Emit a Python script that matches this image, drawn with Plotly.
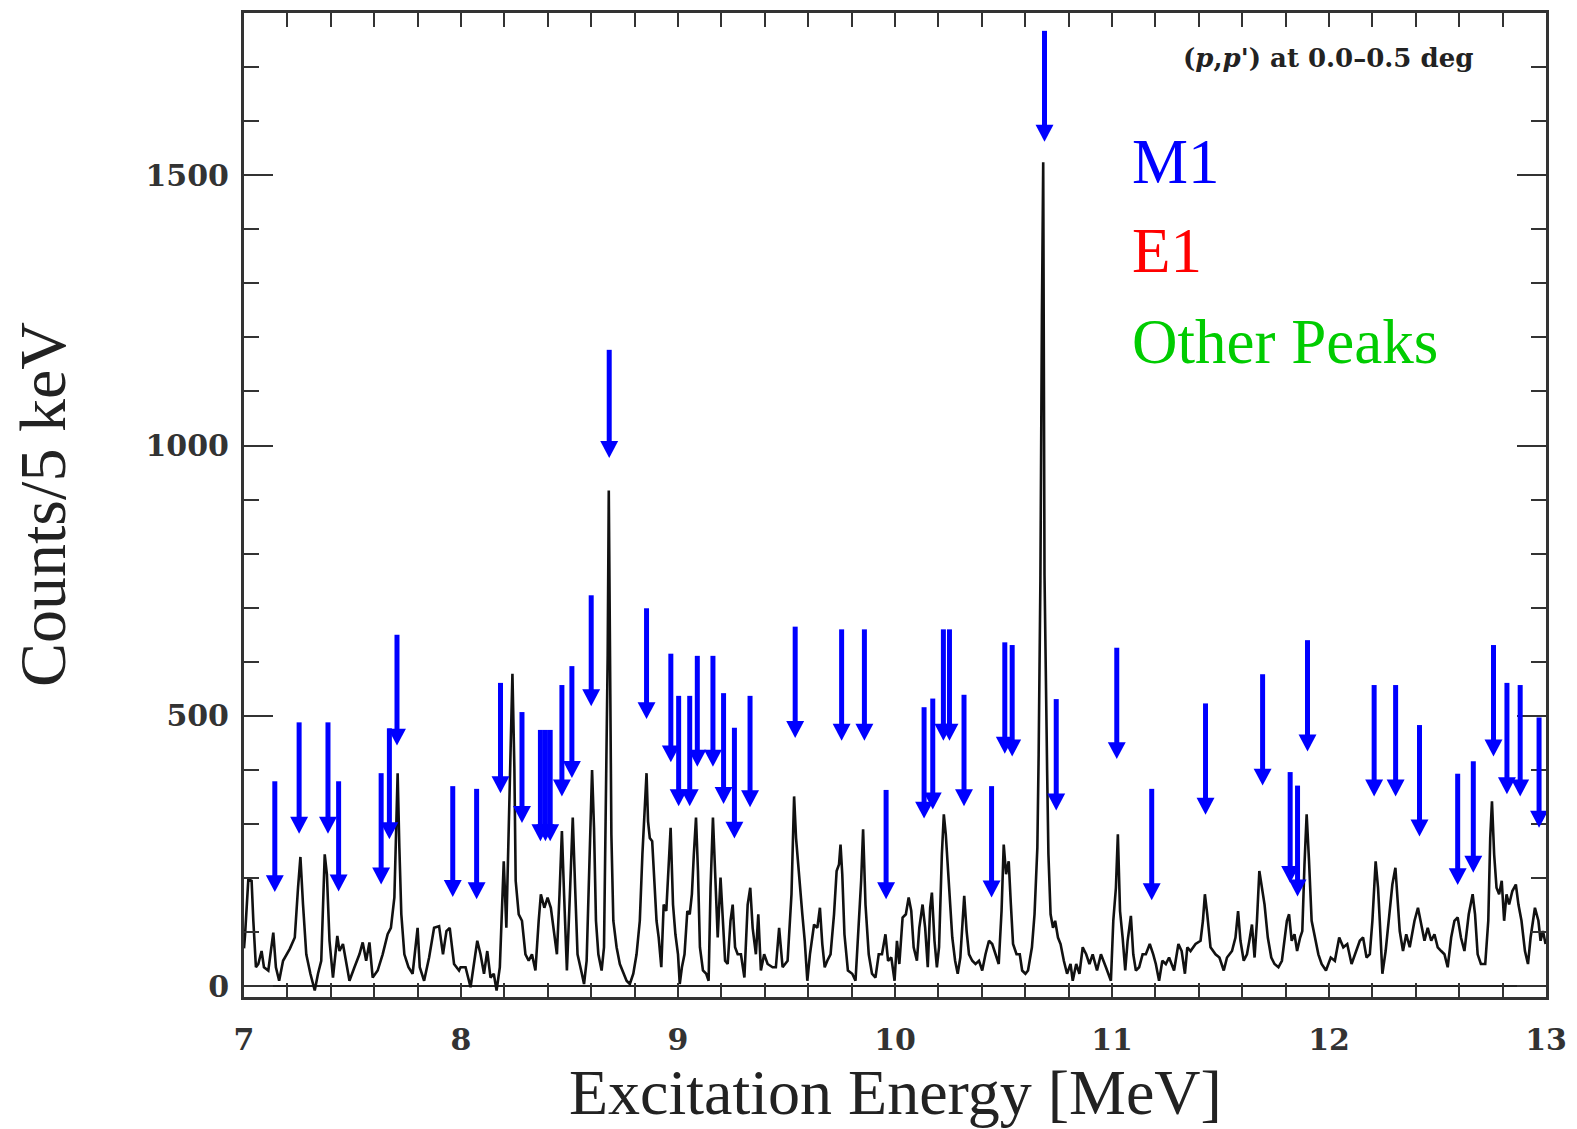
import plotly.graph_objects as go

# ---------------- data ----------------
spec_energy = [
    7.000, 7.005, 7.020, 7.035, 7.043, 7.055, 7.066, 7.081, 7.092, 7.112, 7.135, 7.147, 7.162, 7.180, 7.211,
    7.234, 7.249, 7.260, 7.272, 7.287, 7.306, 7.326, 7.341, 7.356, 7.372, 7.382, 7.394, 7.410, 7.430, 7.440,
    7.456, 7.468, 7.486, 7.509, 7.532, 7.547, 7.563, 7.578, 7.593, 7.616, 7.639, 7.662, 7.677, 7.693, 7.700,
    7.708, 7.716, 7.725, 7.739, 7.758, 7.777, 7.800, 7.810, 7.830, 7.853, 7.876, 7.899, 7.917, 7.933, 7.948,
    7.968, 7.991,
    7.998, 8.021, 8.044, 8.060, 8.075, 8.090, 8.106, 8.121, 8.136, 8.151, 8.164, 8.179, 8.190, 8.197, 8.209,
    8.220, 8.231, 8.237, 8.246, 8.252, 8.266, 8.281, 8.297, 8.312, 8.327, 8.343, 8.358, 8.368, 8.384, 8.399,
    8.414, 8.427, 8.442, 8.454, 8.465, 8.475, 8.488, 8.503, 8.515, 8.526, 8.537, 8.557, 8.567, 8.579, 8.592,
    8.604, 8.613, 8.622, 8.633, 8.648, 8.659, 8.668, 8.676, 8.681, 8.687, 8.693, 8.702, 8.717, 8.732, 8.748,
    8.763, 8.778, 8.794, 8.809, 8.824, 8.836, 8.847, 8.855, 8.862, 8.870, 8.881, 8.890, 8.901, 8.911, 8.923,
    8.934, 8.946,
    8.966, 8.977, 8.988, 9.000, 9.008, 9.018, 9.030, 9.043, 9.054, 9.064, 9.073, 9.083, 9.092, 9.101, 9.115,
    9.130, 9.141, 9.150, 9.161, 9.171, 9.183, 9.196, 9.206, 9.217, 9.229, 9.242, 9.252, 9.263, 9.275, 9.290,
    9.306, 9.321, 9.333, 9.344, 9.359, 9.370, 9.382, 9.397, 9.413, 9.436, 9.451, 9.466, 9.482, 9.505, 9.523,
    9.535, 9.544, 9.558, 9.573, 9.584, 9.596, 9.608, 9.627, 9.642, 9.654, 9.665, 9.676, 9.688, 9.703, 9.719,
    9.731, 9.742, 9.749, 9.757, 9.767, 9.783, 9.803, 9.818, 9.833, 9.844, 9.853, 9.864, 9.879, 9.894, 9.910,
    9.925,
    9.940, 9.956, 9.968, 9.983, 9.998, 10.009, 10.020, 10.035, 10.050, 10.063, 10.075, 10.086, 10.101, 10.112,
    10.127, 10.139, 10.151, 10.162, 10.170, 10.182, 10.193, 10.203, 10.216, 10.225, 10.234, 10.243, 10.254,
    10.264, 10.277, 10.289, 10.301, 10.312, 10.319, 10.330, 10.341, 10.356, 10.371, 10.387, 10.402, 10.417,
    10.433, 10.448, 10.463, 10.478, 10.491, 10.501, 10.512, 10.524, 10.534, 10.544, 10.560, 10.575, 10.586,
    10.601, 10.613, 10.631, 10.643, 10.656, 10.662, 10.670, 10.677, 10.683, 10.689, 10.695, 10.701, 10.707,
    10.717, 10.728, 10.738, 10.751, 10.763, 10.778, 10.793, 10.809, 10.819, 10.835, 10.850, 10.865, 10.881,
    10.896, 10.911, 10.931,
    10.949, 10.972, 10.995, 11.006, 11.018, 11.027, 11.037, 11.049, 11.061, 11.072, 11.087, 11.098, 11.110,
    11.125, 11.141, 11.156, 11.174, 11.190, 11.202, 11.217, 11.232, 11.248, 11.263, 11.286, 11.306, 11.321,
    11.336, 11.347, 11.362, 11.385, 11.408, 11.419, 11.428, 11.439, 11.454, 11.477, 11.495, 11.515, 11.530,
    11.553, 11.569, 11.581, 11.592, 11.607, 11.622, 11.633, 11.645, 11.657, 11.668, 11.679, 11.691, 11.703,
    11.718, 11.734, 11.749, 11.767, 11.783, 11.795, 11.806, 11.816, 11.828, 11.841, 11.853, 11.867, 11.877,
    11.887, 11.897, 11.908, 11.920,
    11.951, 11.966, 11.986, 12.008, 12.027, 12.047, 12.066, 12.084, 12.104, 12.127, 12.142, 12.157, 12.173,
    12.188, 12.200, 12.215, 12.226, 12.234, 12.246, 12.261, 12.280, 12.292, 12.306, 12.315, 12.326, 12.341,
    12.356, 12.372, 12.394, 12.410, 12.422, 12.440, 12.455, 12.471, 12.486, 12.501, 12.517, 12.532, 12.547,
    12.563, 12.578, 12.593, 12.608, 12.624, 12.644, 12.662, 12.673, 12.685, 12.700, 12.720, 12.734, 12.743,
    12.751, 12.761, 12.772, 12.784, 12.796, 12.807, 12.818, 12.830, 12.845, 12.861, 12.873, 12.887, 12.903,
    12.917, 12.929, 12.949, 12.965, 12.975, 12.986, 12.998,
]
spec_counts = [
    70, 96, 198, 195, 121, 35, 41, 65, 35, 29, 99, 35, 10, 47, 69,
    90, 182, 239, 151, 59, 23, -8, 23, 47, 244, 207, 84, 16, 93, 65,
    78, 53, 10, 35, 59, 81, 47, 81, 16, 29, 59, 96, 108, 164, 299,
    394, 256, 133, 59, 35, 23, 108, 35, 10, 53, 108, 111, 59, 102, 108,
    41, 29,
    35, 35, -2, 47, 84, 59, 23, 65, 16, 23, -8, 35, 170, 231, 108,
    305, 502, 578, 403, 195, 133, 121, 59, 47, 59, 29, 121, 170, 145, 164,
    145, 108, 59, 170, 287, 170, 29, 182, 312, 182, 59, 23, 4, 47, 244,
    400, 293, 121, 59, 29, 72, 330, 612, 917, 600, 280, 121, 72, 41, 23,
    10, 4, 23, 59, 121, 244, 330, 394, 305, 274, 268, 201, 121, 90, 35,
    151, 139,
    293, 151, 96, 59, 4, 35, 59, 139, 133, 170, 244, 312, 213, 72, 29,
    23, 10, 182, 312, 195, 90, 201, 121, 47, 41, 121, 151, 72, 59, 59,
    16, 151, 182, 108, 59, 133, 29, 59, 41, 35, 35, 108, 35, 47, 170,
    351, 274, 201, 133, 84, 10, 59, 114, 108, 145, 78, 35, 47, 59, 133,
    213, 225, 262, 207, 96, 29, 23, 10, 121, 195, 290, 151, 59, 23, 16,
    59,
    59, 96, 47, 53, 10, 84, 41, 127, 133, 164, 139, 72, 47, 108,
    151, 108, 35, 145, 173, 84, 35, 72, 244, 318, 281, 219, 139,
    90, 47, 23, 53, 121, 167, 102, 59, 47, 41, 47, 29, 59,
    84, 78, 59, 41, 139, 262, 207, 231, 151, 78, 59, 59, 29,
    23, 29, 72, 133, 256, 428, 750, 1240, 1524, 760, 520, 400, 244,
    133, 108, 121, 90, 78, 47, 23, 41, 10, 41, 23, 72, 59,
    41, 59, 29,
    59, 35, 10, 121, 182, 281, 139, 90, 29, 84, 130, 59, 29,
    35, 59, 59, 78, 59, 41, 10, 47, 41, 53, 29, 78, 65,
    23, 72, 65, 78, 84, 121, 170, 133, 72, 59, 53, 29, 53,
    65, 90, 139, 84, 47, 59, 84, 114, 53, 121, 213, 182, 151,
    90, 53, 41, 35, 47, 84, 121, 133, 84, 96, 65, 90, 102,
    225, 318, 231, 121,
    59, 41, 29, 53, 47, 90, 72, 78, 41, 65, 84, 90, 53,
    59, 121, 231, 182, 121, 23, 65, 139, 188, 219, 170, 102, 65,
    96, 72, 121, 145, 121, 84, 108, 84, 96, 72, 65, 59, 35,
    90, 121, 127, 90, 65, 133, 170, 133, 59, 41, 41, 121, 274,
    342, 244, 182, 170, 195, 121, 170, 151, 176, 188, 151, 121, 65,
    41, 90, 145, 121, 84, 102, 78,
]

arrow_energy = [
    7.142, 7.254, 7.387, 7.436, 7.632, 7.670, 7.705, 7.962, 8.072, 8.182, 8.281, 8.366, 8.389, 8.411,
    8.465, 8.511, 8.600, 8.683, 8.855, 8.967, 9.003, 9.054, 9.089, 9.161, 9.210, 9.260, 9.332, 9.540,
    9.754, 9.859, 9.959, 10.134, 10.174, 10.223, 10.251, 10.318, 10.445, 10.506, 10.540, 10.689, 10.743,
    11.022, 11.183, 11.431, 11.694, 11.821, 11.855, 11.901, 12.208, 12.307, 12.417, 12.593, 12.665,
    12.758, 12.820, 12.881, 12.968,
]
arrow_top = [
    379, 488, 488, 379, 394, 477, 650, 370, 365, 561, 507, 474, 474, 474,
    557, 592, 723, 1177, 699, 615, 537, 537, 611, 611, 542, 478, 537, 665,
    660, 660, 363, 516, 532, 660, 660, 539, 370, 636, 631, 1767, 531,
    626, 365, 523, 577, 396, 371, 640, 557, 557, 483, 393, 416,
    631, 561, 557, 497,
]
arrow_tip = [
    174, 282, 282, 175, 188, 272, 445, 165, 161, 357, 302, 268, 268, 268,
    351, 385, 518, 977, 494, 414, 333, 333, 406, 406, 337, 273, 331, 459,
    454, 454, 161, 310, 327, 454, 454, 333, 164, 430, 425, 1562, 325,
    420, 159, 317, 371, 191, 166, 434, 351, 351, 277, 187, 210,
    425, 355, 351, 293,
]

x_ticks = [7, 8, 9, 10, 11, 12, 13]
y_ticks = [0, 500, 1000, 1500]
legend_labels = ["M1", "E1", "Other Peaks"]
legend_colors = ["#0000ff", "#ff0000", "#00cc00"]

# ---------------- layout constants ----------------
W, H = 1577, 1129
M_L, M_R, M_T, M_B = 244, 25, 10, 132
X_RANGE = [7, 13]
Y_RANGE = [-20, 1800]
plot_w = W - M_L - M_R
plot_h = H - M_T - M_B
px_per_x = plot_w / (X_RANGE[1] - X_RANGE[0])
px_per_y = plot_h / (Y_RANGE[1] - Y_RANGE[0])

ARROW_COLOR = "#0000ff"
HEAD_W_PX, HEAD_L_PX, SHAFT_W_PX = 18, 17, 5
hw = HEAD_W_PX / 2 / px_per_x
hl = HEAD_L_PX / px_per_y

fig = go.Figure()
fig.add_trace(go.Scatter(
    x=spec_energy, y=spec_counts, mode="lines",
    line=dict(color="#111111", width=2.6), hoverinfo="skip", showlegend=False,
))

shapes = []
for e, top, tip in zip(arrow_energy, arrow_top, arrow_tip):
    shapes.append(dict(type="line", xref="x", yref="y", x0=e, x1=e, y0=top, y1=tip + hl * 0.8,
                       line=dict(color=ARROW_COLOR, width=SHAFT_W_PX)))
    shapes.append(dict(type="path", xref="x", yref="y",
                       path=f"M {e - hw},{tip + hl} L {e + hw},{tip + hl} L {e},{tip} Z",
                       fillcolor=ARROW_COLOR, line=dict(width=0)))

tick_font = dict(family="DejaVu Serif", size=30, color="#333333", weight="bold")
axis_common = dict(
    showgrid=False, showline=True, linewidth=3, linecolor="#333333", mirror="allticks",
    ticks="inside", tickwidth=2, tickcolor="#333333", tickfont=tick_font,
)

annotations = [
    dict(text="Excitation Energy [MeV]", xref="paper", yref="paper", x=0.5, y=0,
         xanchor="center", yanchor="middle", yshift=-95, showarrow=False,
         font=dict(family="Liberation Serif", size=64, color="#222222")),
    dict(text="Counts/5 keV", xref="paper", yref="paper", x=0, y=0.5, textangle=-90,
         xanchor="center", yanchor="middle", xshift=-202, showarrow=False,
         font=dict(family="Liberation Serif", size=66, color="#222222")),
    dict(text="(<i>p</i>,<i>p'</i>) at 0.0\u20130.5 deg", xref="paper", yref="paper",
         x=(1333 - M_L) / plot_w, y=(H - M_B - 55) / plot_h, xanchor="center", yanchor="middle",
         showarrow=False, font=dict(family="DejaVu Serif", size=26, color="#222222", weight="bold")),
]
legend_y_px = [159, 249, 340]
for lab, col, ypx in zip(legend_labels, legend_colors, legend_y_px):
    annotations.append(dict(text=lab, xref="paper", yref="paper", x=(1134 - M_L) / plot_w,
                            y=(H - M_B - ypx) / plot_h, xanchor="left", yanchor="middle",
                            showarrow=False,
                            font=dict(family="Liberation Serif", size=63, color=col)))

fig.update_layout(
    width=W, height=H, margin=dict(l=M_L, r=M_R, t=M_T, b=M_B),
    paper_bgcolor="white", plot_bgcolor="white",
    shapes=shapes, annotations=annotations, showlegend=False,
    xaxis=dict(range=X_RANGE, tickmode="array", tickvals=x_ticks, ticktext=[str(v) for v in x_ticks],
               ticklen=14, zeroline=False, ticklabelstandoff=14,
               minor=dict(tickmode="linear", tick0=7, dtick=0.2, ticks="inside", ticklen=14,
                          tickwidth=2, tickcolor="#333333"),
               **axis_common),
    yaxis=dict(range=Y_RANGE, tickmode="array", tickvals=y_ticks, ticktext=[str(v) for v in y_ticks],
               ticklen=29, zeroline=True, zerolinecolor="#222222", zerolinewidth=2,
               ticklabelstandoff=6,
               minor=dict(tickmode="linear", tick0=0, dtick=100, ticks="inside", ticklen=15,
                          tickwidth=2, tickcolor="#333333"),
               **axis_common),
)

fig.write_html("out.html")
